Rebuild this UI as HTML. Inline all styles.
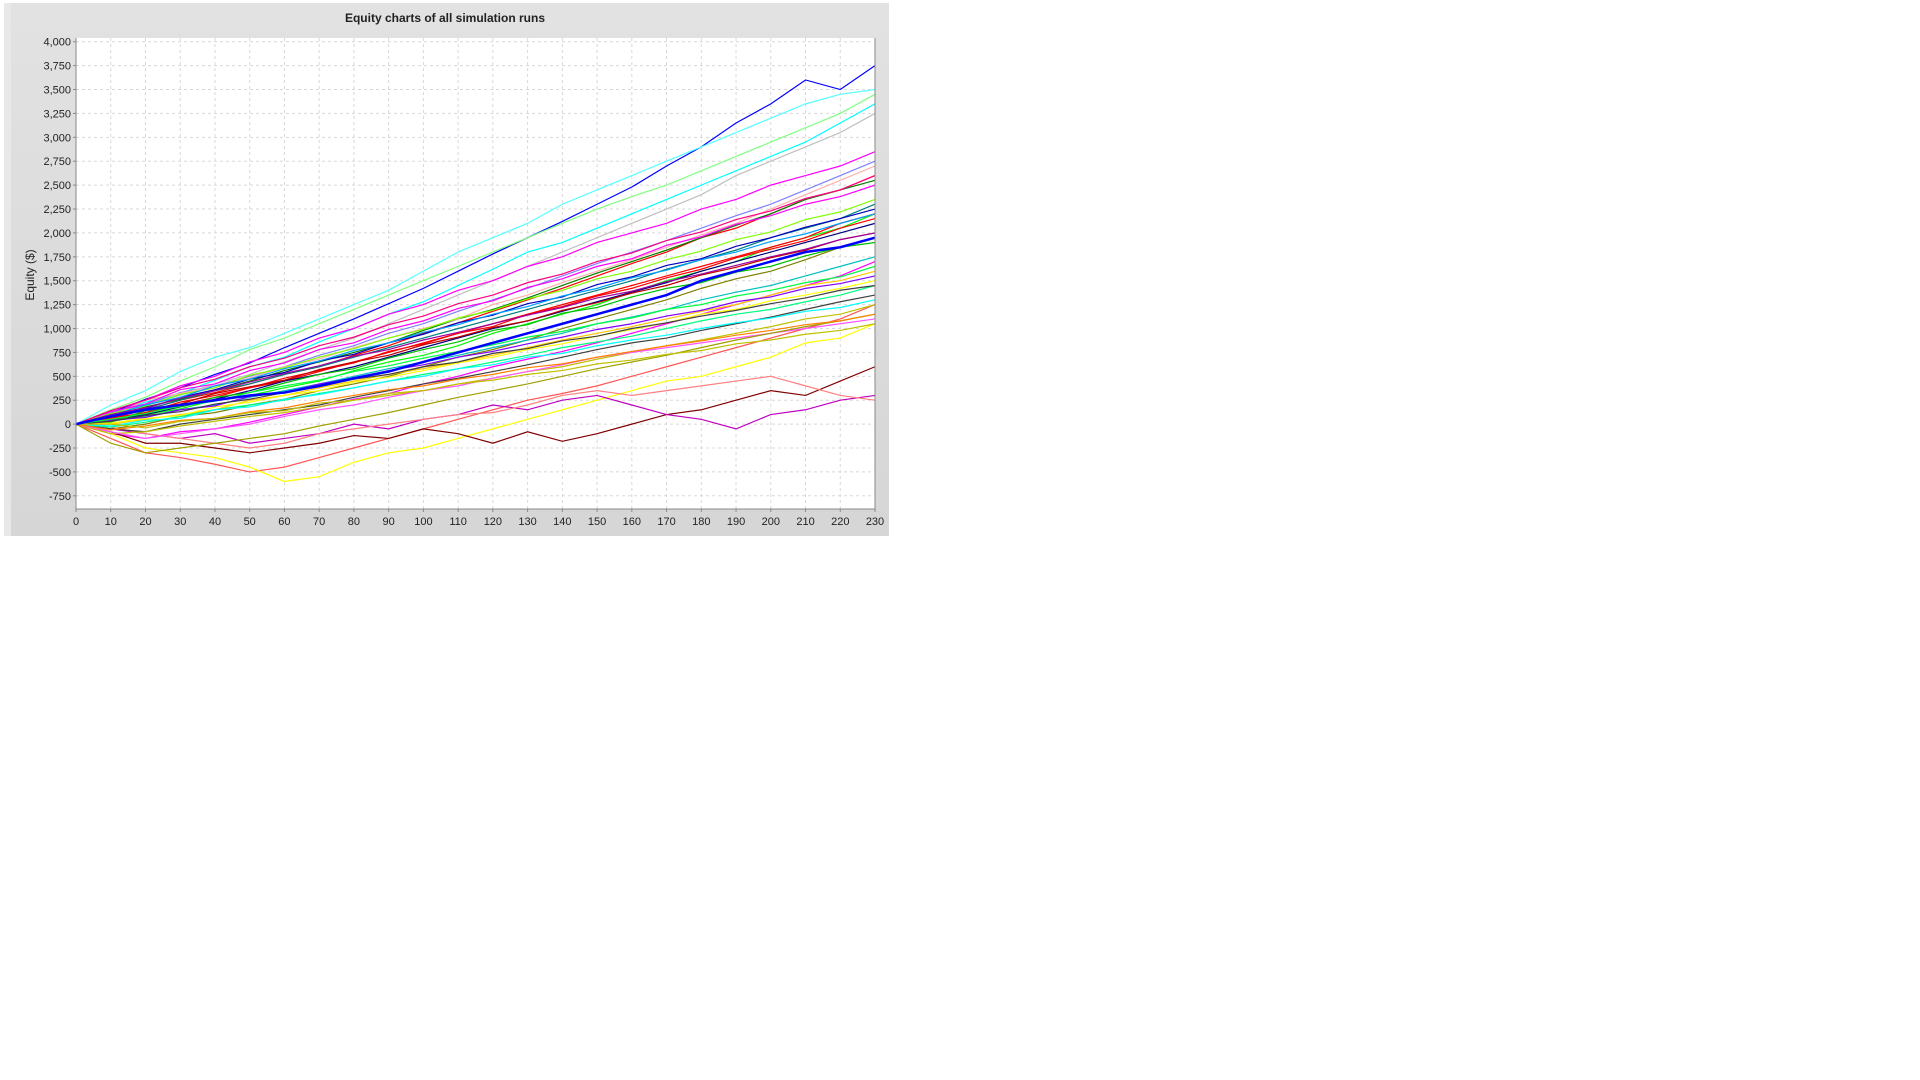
<!DOCTYPE html>
<html><head><meta charset="utf-8"><style>
body{margin:0;background:#fff;width:1920px;height:1080px;overflow:hidden;font-family:"Liberation Sans",sans-serif}
svg{position:absolute;left:0;top:0}
</style></head><body>
<svg id="chart" width="1920" height="1080">
<defs><linearGradient id="bg" x1="0" y1="0" x2="0" y2="1"><stop offset="0" stop-color="#e2e2e2"/><stop offset="1" stop-color="#d6d6d6"/></linearGradient></defs>
<rect x="4" y="3" width="885" height="533" fill="url(#bg)"/>
<rect x="4" y="3" width="7" height="533" fill="#e8e8e8"/>
<text x="445" y="22" text-anchor="middle" font-size="12" font-weight="bold" fill="#222">Equity charts of all simulation runs</text>
<text transform="translate(34,275) rotate(-90)" text-anchor="middle" font-size="12" fill="#222">Equity ($)</text>
<rect x="76" y="38" width="799" height="471" fill="#fff"/>
<g id="grid"></g><g id="lines"></g><g id="axes"></g>
</svg>
<script>
const xTicks=[0,10,20,30,40,50,60,70,80,90,100,110,120,130,140,150,160,170,180,190,200,210,220,230];
const yTicks=[-750,-500,-250,0,250,500,750,1000,1250,1500,1750,2000,2250,2500,2750,3000,3250,3500,3750,4000];
const yTickLabels=["-750","-500","-250","0","250","500","750","1,000","1,250","1,500","1,750","2,000","2,250","2,500","2,750","3,000","3,250","3,500","3,750","4,000"];
const steps=[0,10,20,30,40,50,60,70,80,90,100,110,120,130,140,150,160,170,180,190,200,210,220,230];
const s1=[0,120,260,380,520,640,800,950,1100,1260,1420,1600,1780,1950,2120,2300,2480,2700,2900,3150,3350,3600,3500,3750];
const s2=[0,80,200,300,420,520,650,780,900,1050,1200,1350,1500,1650,1800,1950,2100,2250,2400,2600,2750,2900,3050,3250];
const s3=[0,100,230,320,460,600,700,860,1000,1150,1280,1450,1620,1800,1900,2050,2200,2350,2500,2650,2800,2950,3150,3350];
const s4=[0,60,150,250,330,420,520,600,720,820,950,1060,1180,1300,1420,1550,1680,1800,1950,2050,2200,2350,2450,2600];
const s5=[0,40,100,160,250,300,380,450,560,650,720,820,950,1050,1150,1250,1380,1500,1600,1700,1850,1950,2050,2200];
const s6=[0,-50,0,80,120,200,260,350,420,500,600,700,780,880,1000,1100,1200,1300,1420,1520,1600,1720,1850,1950];
const s7=[0,-100,-150,-80,-50,20,100,180,260,320,420,500,600,680,760,850,950,1050,1150,1250,1350,1450,1550,1700];
const s8=[0,-150,-300,-350,-420,-500,-450,-350,-250,-150,-50,50,150,250,320,400,500,600,700,800,900,1000,1100,1250];
const s9=[0,-100,-250,-300,-350,-450,-600,-550,-400,-300,-250,-150,-50,50,150,250,350,450,500,600,700,850,900,1050];
const s10=[0,-80,-200,-200,-250,-300,-250,-200,-120,-150,-50,-100,-200,-80,-180,-100,0,100,150,250,350,300,450,600];
const s11=[0,-50,-100,-150,-100,-200,-150,-100,0,-50,50,100,200,150,250,300,200,100,50,-50,100,150,250,300];
const s12=[0,-30,-100,-150,-200,-250,-200,-100,-50,0,50,100,120,200,300,350,300,350,400,450,500,400,300,250];
const s13=[0,100,250,400,500,650,750,900,1000,1150,1250,1400,1500,1650,1750,1900,2000,2100,2250,2350,2500,2600,2700,2850];
const s14=[0,50,120,200,280,380,450,550,650,750,850,950,1050,1150,1250,1350,1450,1550,1650,1750,1850,1950,2100,2200];
const s15=[0,0,50,100,150,250,300,380,450,520,580,650,720,800,880,950,1020,1100,1180,1250,1350,1450,1500,1600];
const s16=[0,-50,-80,0,50,100,150,200,280,350,420,480,550,620,700,780,850,900,980,1050,1120,1200,1280,1350];
const s17=[0,150,280,450,600,780,900,1050,1200,1350,1500,1650,1800,1950,2100,2250,2380,2500,2650,2800,2950,3100,3250,3450];
const s18=[0,120,200,330,400,500,600,720,820,950,1050,1180,1300,1420,1550,1680,1800,1920,2050,2180,2300,2450,2600,2750];
const s19=[0,30,80,150,200,280,350,420,500,580,650,720,800,880,950,1050,1120,1200,1300,1380,1450,1550,1650,1750];
const s20=[0,-100,-80,-20,30,80,120,180,250,300,350,420,480,550,600,680,750,820,880,950,1020,1100,1150,1250];
const s21=[0,80,180,260,350,450,560,650,750,850,980,1100,1200,1320,1450,1580,1700,1820,1950,2080,2200,2350,2450,2550];
const s22=[0,200,350,550,700,800,950,1100,1250,1400,1600,1800,1950,2100,2300,2450,2600,2750,2900,3050,3200,3350,3450,3500];
const s23=[0,50,100,180,260,350,450,520,600,700,800,900,1000,1080,1180,1280,1380,1480,1600,1700,1800,1900,2000,2100];
const s24=[0,-80,-150,-100,-50,0,80,150,200,280,350,400,480,550,620,700,750,800,850,900,950,1000,1050,1100];
const s25=[0,100,150,250,350,420,520,600,700,800,900,1000,1100,1200,1300,1400,1500,1620,1720,1820,1950,2050,2150,2300];
const s26=[0,-30,20,80,150,200,250,320,380,450,520,580,650,720,800,860,920,1000,1080,1150,1200,1280,1350,1450];
const s27=[0,80,250,320,400,480,600,680,800,900,1000,1100,1250,1350,1480,1600,1720,1850,1980,2100,2250,2400,2550,2700];
const s28=[0,-200,-300,-250,-200,-150,-100,-20,50,120,200,280,350,420,500,580,650,720,800,880,950,1020,1080,1150];
const s29=[0,60,120,230,300,380,480,560,640,760,840,950,1020,1150,1230,1340,1420,1530,1620,1740,1830,1920,2050,2150];
const s30=[0,20,140,180,280,330,430,520,580,690,780,860,980,1040,1160,1220,1330,1420,1480,1590,1650,1760,1850,1900];
const s31=[0,90,160,280,360,470,540,660,730,850,940,1060,1140,1260,1330,1460,1540,1660,1730,1860,1950,2060,2150,2250];
const s32=[0,10,60,90,180,230,300,350,440,490,560,640,700,780,840,920,990,1060,1150,1200,1290,1350,1420,1500];
const s33=[0,130,210,360,420,560,640,780,850,990,1080,1210,1290,1430,1520,1650,1730,1870,1960,2090,2180,2300,2380,2500];
const s34=[0,-20,40,60,150,180,260,310,380,450,500,580,620,700,740,820,880,930,1000,1060,1110,1180,1220,1300];
const s35=[0,70,150,210,320,390,460,570,650,720,830,910,1010,1080,1190,1270,1370,1450,1560,1640,1740,1820,1930,2000];
const s36=[0,110,190,310,380,510,590,700,790,900,990,1110,1190,1310,1400,1520,1600,1720,1810,1930,2010,2140,2220,2350];
const s37=[0,40,70,150,190,290,330,420,480,560,620,700,760,840,910,990,1050,1130,1190,1280,1330,1420,1470,1550];
const s38=[0,-60,-20,40,60,130,170,240,300,360,400,470,520,590,630,700,760,820,870,930,980,1040,1080,1150];
const s39=[0,90,200,280,400,470,580,660,770,850,960,1040,1150,1230,1340,1420,1530,1610,1720,1800,1910,1990,2100,2200];
const s40=[0,30,90,130,210,260,330,390,470,520,600,650,740,790,870,920,1000,1060,1130,1190,1260,1320,1400,1450];
const s41=[0,140,250,380,470,600,690,820,910,1040,1130,1260,1350,1480,1570,1700,1790,1920,2010,2140,2230,2360,2450,2600];
const s42=[0,50,110,190,240,330,400,460,550,610,690,760,830,910,970,1050,1110,1200,1250,1340,1400,1480,1540,1650];
const s43=[0,0,-40,30,60,120,140,220,250,320,350,420,460,520,560,630,670,730,770,840,880,940,980,1050];
const s44=[0,100,170,270,350,440,530,610,710,780,880,960,1050,1140,1220,1320,1390,1490,1570,1660,1750,1830,1930,2000];
const median=[0,80,150,200,250,300,330,400,480,550,650,750,850,950,1050,1150,1250,1350,1500,1600,1700,1800,1850,1950];
const allSeries=[s1,s2,s3,s4,s5,s6,s7,s8,s9,s10,s11,s12,s13,s14,s15,s16,s17,s18,s19,s20,s21,s22,s23,s24,s25,s26,s27,s28,s29,s30,s31,s32,s33,s34,s35,s36,s37,s38,s39,s40,s41,s42,s43,s44];
const colors=["#0000ff","#c0c0c0","#00ffff","#ff0000","#00ff00","#808000","#ff00ff","#ff5555","#ffff00","#800000","#c000c0","#ff8080","#ff00ff","#ff0000","#ffc800","#404040","#80ff80","#8080ff","#00c0c0","#c0c000","#008000","#55ffff","#000080","#ff55ff","#008080","#00ff80","#ffafaf","#a0a000","#ff0000","#00c000","#0000c0","#ffff00","#ff00ff","#00ffff","#c00000","#80ff00","#8000ff","#ff8000","#00a0ff","#404040","#ff0080","#00ff40","#c0c000","#a000a0"];
const NS="http://www.w3.org/2000/svg";
const L=76,R=875,T=38,B=509,XMIN=0,XMAX=230,YMIN=-888,YMAX=4039;
const xs=v=>L+(v-XMIN)/(XMAX-XMIN)*(R-L);
const ys=v=>B-(v-YMIN)/(YMAX-YMIN)*(B-T);
function mk(tag,attrs,parent){const e=document.createElementNS(NS,tag);for(const k in attrs)e.setAttribute(k,attrs[k]);parent.appendChild(e);return e;}
const grid=document.getElementById('grid'),lines=document.getElementById('lines'),axes=document.getElementById('axes');
xTicks.forEach(t=>{
  const g=mk('line',{x1:xs(t),x2:xs(t),y1:T,y2:B,stroke:'#d8d8d8','stroke-dasharray':'3,3'},grid);
  
  
  mk('line',{x1:xs(t),x2:xs(t),y1:B,y2:B+3,stroke:'#888'},axes);
  const tx=mk('text',{x:xs(t),y:B+16,'text-anchor':'middle','font-size':11,fill:'#222'},axes);
  tx.textContent=t;
  
  
});
yTicks.forEach((t,i)=>{
  const g=mk('line',{x1:L,x2:R,y1:ys(t),y2:ys(t),stroke:'#d8d8d8','stroke-dasharray':'3,3'},grid);
  
  
  mk('line',{x1:L-3,x2:L,y1:ys(t),y2:ys(t),stroke:'#888'},axes);
  const tx=mk('text',{x:L-5,y:ys(t)+4,'text-anchor':'end','font-size':11,fill:'#222'},axes);
  tx.textContent=yTickLabels[i];
  
  
});
function draw(series,color,w){
  const p=mk('polyline',{points:series.map((v,i)=>xs(steps[i])+','+ys(v)).join(' '),fill:'none',stroke:color,'stroke-width':w},lines);
  
  
}
allSeries.forEach((s,i)=>draw(s,colors[i%colors.length],1.2));
draw(median,'#0000ff',2.5);
const ax=mk('polyline',{points:`${L},${T} ${L},${B} ${R},${B} ${R},${T}`,fill:'none',stroke:'#888'},axes);


</script>
</body></html>
